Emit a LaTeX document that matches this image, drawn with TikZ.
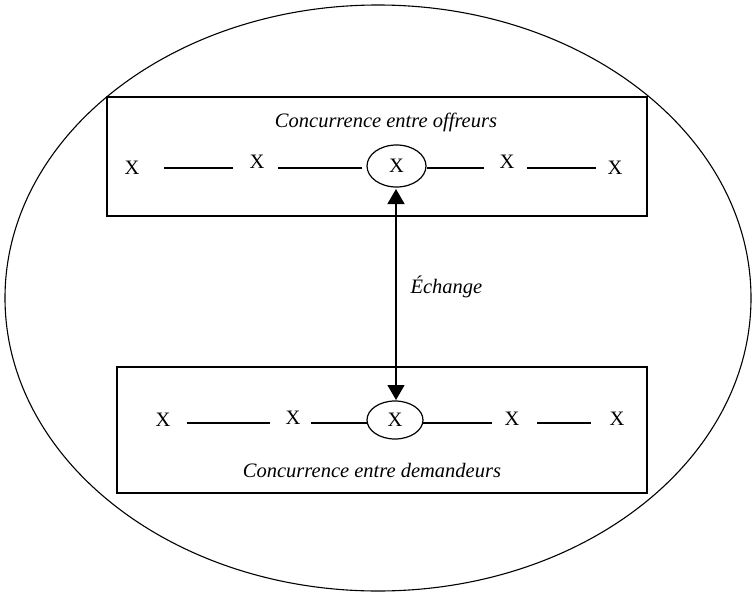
\documentclass[tikz,border=0pt]{standalone}
\usepackage{fontspec}
\setmainfont{Liberation Serif}
\usetikzlibrary{arrows.meta,shapes.geometric}
\begin{document}
\begin{tikzpicture}[x=1pt,y=-1pt,line width=1.2pt,
  every node/.style={font=\fontsize{20.5}{24}\selectfont},
  xnode/.style={inner sep=0pt},
  xell/.style={draw,ellipse,inner sep=0pt},
  frame/.style={draw,line width=1.3pt},
  title/.style={anchor=base,inner sep=0pt,font=\fontsize{20.5}{24}\selectfont\itshape},
  link/.style={line width=1.2pt},
  exch/.style={line width=1.3pt,{Triangle[length=15pt,width=17pt]}-{Triangle[length=15pt,width=17pt]}}]
\useasboundingbox (0,0) rectangle (752,594);
% outer ellipse
\draw[line width=1.1pt] (378,298) ellipse [x radius=373, y radius=293];
% top box
\draw[frame] (107,97) rectangle (647,216);
\node[title] (ttop) at (386,127) {Concurrence entre offreurs};
\node[xnode] (t1) at (132,168) {X};
\node[xnode] (t2) at (257,162) {X};
\node[xell,minimum width=59pt,minimum height=42pt] (tc) at (396.5,166) {X};
\node[xnode] (t4) at (507,162) {X};
\node[xnode] (t5) at (615,168) {X};
\coordinate (ta1) at (164,168); \coordinate (ta2) at (233,168);
\coordinate (tb1) at (278,168); \coordinate (tb2) at (362,168);
\coordinate (tc1) at (427,168); \coordinate (tc2) at (484,168);
\coordinate (td1) at (527,168); \coordinate (td2) at (596,168);
\draw[link] (ta1) -- (ta2);
\draw[link] (tb1) -- (tb2);
\draw[link] (tc1) -- (tc2);
\draw[link] (td1) -- (td2);
% bottom box
\draw[frame] (117,367) rectangle (647,493);
\node[title] (tbot) at (372,477) {Concurrence entre demandeurs};
\node[xnode] (b1) at (163,420) {X};
\node[xnode] (b2) at (293,418) {X};
\node[xell,minimum width=56pt,minimum height=38pt] (bc) at (395,420) {X};
\node[xnode] (b4) at (512,419) {X};
\node[xnode] (b5) at (617,419) {X};
\coordinate (ba1) at (187,423); \coordinate (ba2) at (270,423);
\coordinate (bb1) at (311,423); \coordinate (bb2) at (367,423);
\coordinate (bc1) at (423,423); \coordinate (bc2) at (492,423);
\coordinate (bd1) at (537,423); \coordinate (bd2) at (591,423);
\draw[link] (ba1) -- (ba2);
\draw[link] (bb1) -- (bb2);
\draw[link] (bc1) -- (bc2);
\draw[link] (bd1) -- (bd2);
% exchange arrow
\coordinate (ea) at (396,189);
\coordinate (eb) at (396,400);
\draw[exch] (ea) -- (eb);
\node[title,anchor=base west] (lab) at (410,293) {Échange};
\end{tikzpicture}
\end{document}
